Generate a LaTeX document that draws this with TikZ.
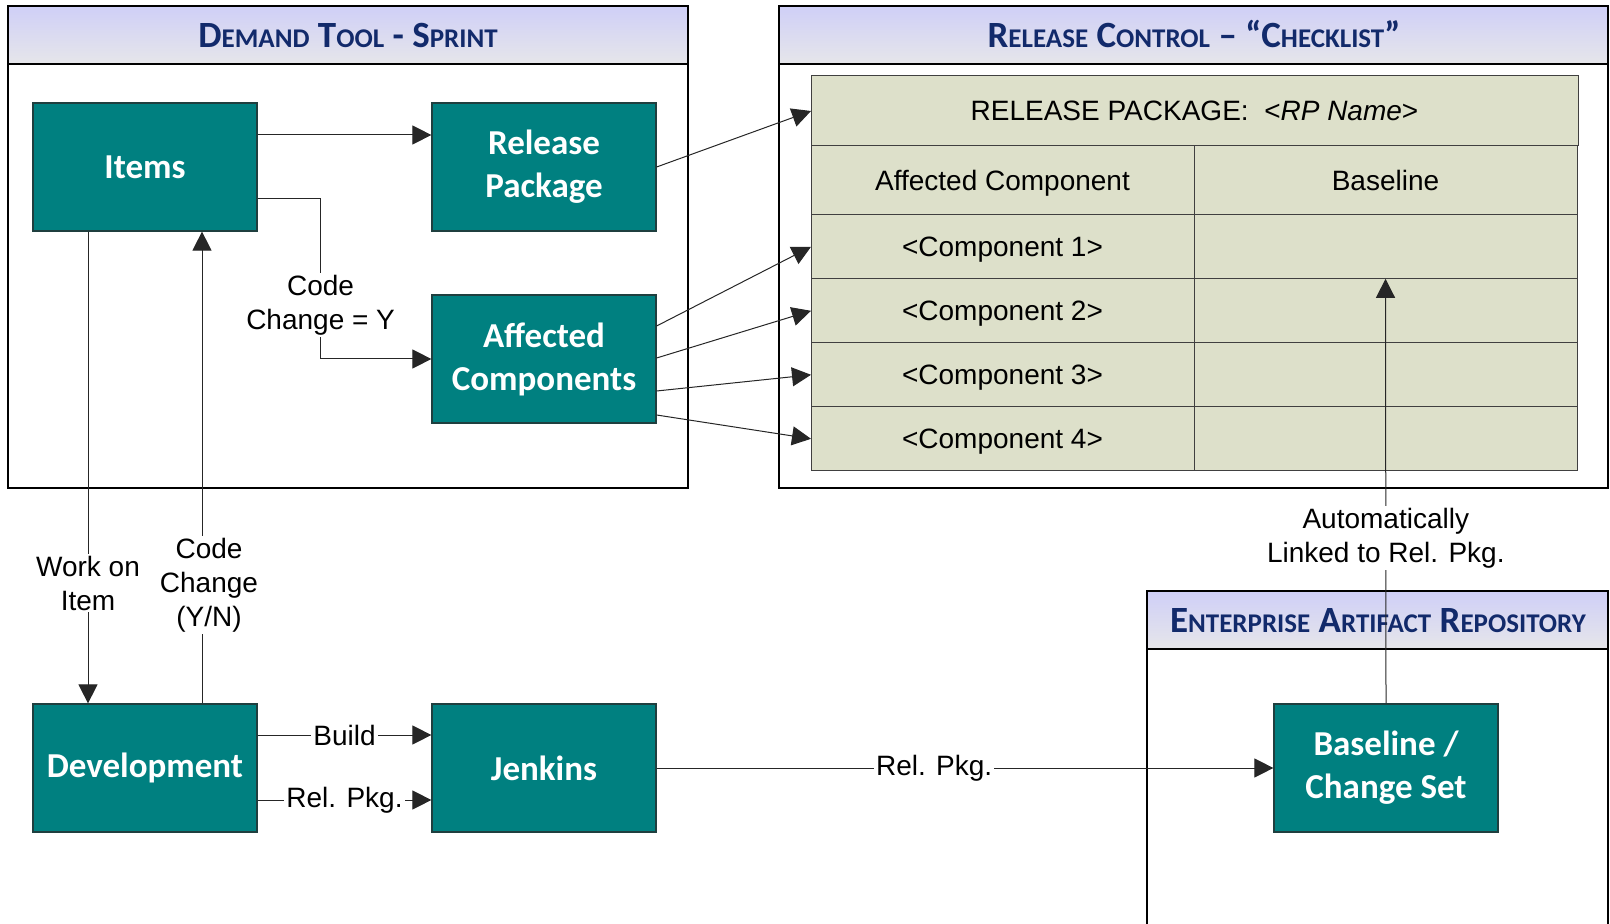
\documentclass[tikz,border=0pt]{standalone}
\usepackage{fontspec}
\setmainfont{Liberation Sans}
\newfontfamily\boxfont{Carlito}
\usetikzlibrary{arrows.meta,positioning}

\definecolor{boxteal}{HTML}{008080}
\definecolor{boxedge}{HTML}{1F3F3F}
\definecolor{hdrtop}{HTML}{CFCFF7}
\definecolor{hdrbot}{HTML}{E6E6EA}
\definecolor{hdrtext}{HTML}{122A6B}
\definecolor{cellfill}{HTML}{DDE0CA}
\definecolor{celledge}{HTML}{404040}

\newcommand{\smc}[1]{{\fontsize{13.5}{14}\selectfont #1}}

\tikzset{
    proc/.style={draw=boxedge, line width=0.6pt, fill=boxteal, text=white, align=center,
        font=\boxfont\fontsize{17.5}{21.5}\selectfont\bfseries,
        minimum width=112pt, minimum height=64pt, inner sep=0pt},
    cell/.style={draw=celledge, line width=0.5pt, fill=cellfill, font=\fontsize{14}{17}\selectfont,
        text height=10pt, text depth=0pt,
        minimum width=191.5pt, minimum height=32pt, inner sep=0pt, outer sep=0pt},
    lbl/.style={fill=white, font=\fontsize{14}{17}\selectfont, inner sep=1pt, align=center},
    conn/.style={draw=black!85, line width=0.5pt, -{Triangle[length=9.5pt, width=9.5pt]}},
    lane/.style={draw=black, line width=1pt},
    hdr/.style={lane, top color=hdrtop, bottom color=hdrbot},
    hdrtxt/.style={text=hdrtext, font=\boxfont\fontsize{18.5}{20}\selectfont\bfseries,
        text height=12pt, text depth=0pt}
}

\begin{document}
\begin{tikzpicture}[x=0.5pt, y=-0.5pt]
    \useasboundingbox (0,0) rectangle (1610,924);

    % Demand tool lane
    \draw[lane] (8,6) rectangle (688,488);
    \draw[hdr] (8,6) rectangle (688,64);
    \node[hdrtxt] (demandhdr) at (348,36) {D\smc{EMAND} T\smc{OOL} - S\smc{PRINT}};

    % Release control lane
    \draw[lane] (779,6) rectangle (1608,488);
    \draw[hdr] (779,6) rectangle (1608,64);
    \node[hdrtxt] (releasehdr) at (1194,36) {R\smc{ELEASE} C\smc{ONTROL} – “C\smc{HECKLIST}”};

    % Enterprise artifact repository lane
    \draw[lane] (1147,591) rectangle (1608,990);
    \draw[hdr] (1147,591) rectangle (1608,649);
    \node[hdrtxt] (repohdr) at (1378,620) {E\smc{NTERPRISE} A\smc{RTIFACT} R\smc{EPOSITORY}};

    % Process boxes
    \node[proc] (items) at (145,167) {Items};
    \node[proc] (relpkg) at (544,167) {Release\\Package};
    \node[proc] (affected) at (544,359) {Affected\\Components};
    \node[proc] (dev) at (145,768) {Development};
    \node[proc] (jenkins) at (544,768) {Jenkins};
    \node[proc] (baseline) at (1386,768) {Baseline /\\Change Set};

    % Checklist table
    \node[cell, minimum width=383.5pt, minimum height=35pt] (rphead) at (1194.5,111)
        {RELEASE PACKAGE:\ \ <\textit{RP Name}>};
    \node[cell, minimum height=34.4pt, below right=0pt and 0pt of rphead.south west] (comphead) {Affected Component};
    \node[cell, minimum height=34.4pt, right=0pt of comphead] (basehead) {Baseline};
    \foreach \i/\p in {1/comphead, 2/comp1, 3/comp2, 4/comp3} {
        \node[cell, below=0pt of \p] (comp\i) {<Component \i>};
        \node[cell, right=0pt of comp\i] (base\i) {};
    }

    % Connectors
    \draw[conn] ([yshift=16pt]items.east) -- ([yshift=16pt]relpkg.west);
    \draw[conn] ([yshift=-16pt]items.east) -- ++(63,0)
        -- node[lbl, pos=0.665] {Code\\Change = Y} ++(0,160) -- (affected.west);
    \draw[conn] (relpkg.east) -- (rphead.west);
    \foreach \i/\dy in {1/16.5, 2/0.5, 3/-16, 4/-28}
        \draw[conn] ([yshift=\dy pt]affected.east) -- (comp\i.west);

    \draw[conn] ([xshift=-28.5pt]items.south) -- node[lbl, pos=0.745] {Work on\\Item} ([xshift=-28.5pt]dev.north);
    \draw[conn] ([xshift=28.5pt]dev.north) -- node[lbl, pos=0.25, xshift=3.5pt] {Code\\Change\\(Y/N)} ([xshift=28.5pt]items.south);

    \draw[conn] ([yshift=16.5pt]dev.east) -- node[lbl] {Build} ([yshift=16.5pt]jenkins.west);
    \draw[conn] ([yshift=-16pt]dev.east) -- node[lbl] {Rel. Pkg.} ([yshift=-16pt]jenkins.west);
    \draw[conn] (jenkins.east) -- node[lbl, pos=0.45] {Rel. Pkg.} (baseline.west);
    \draw[conn] (baseline.north) -- node[lbl, pos=0.39] {Automatically\\Linked to Rel. Pkg.} (base1.south);
\end{tikzpicture}
\end{document}
